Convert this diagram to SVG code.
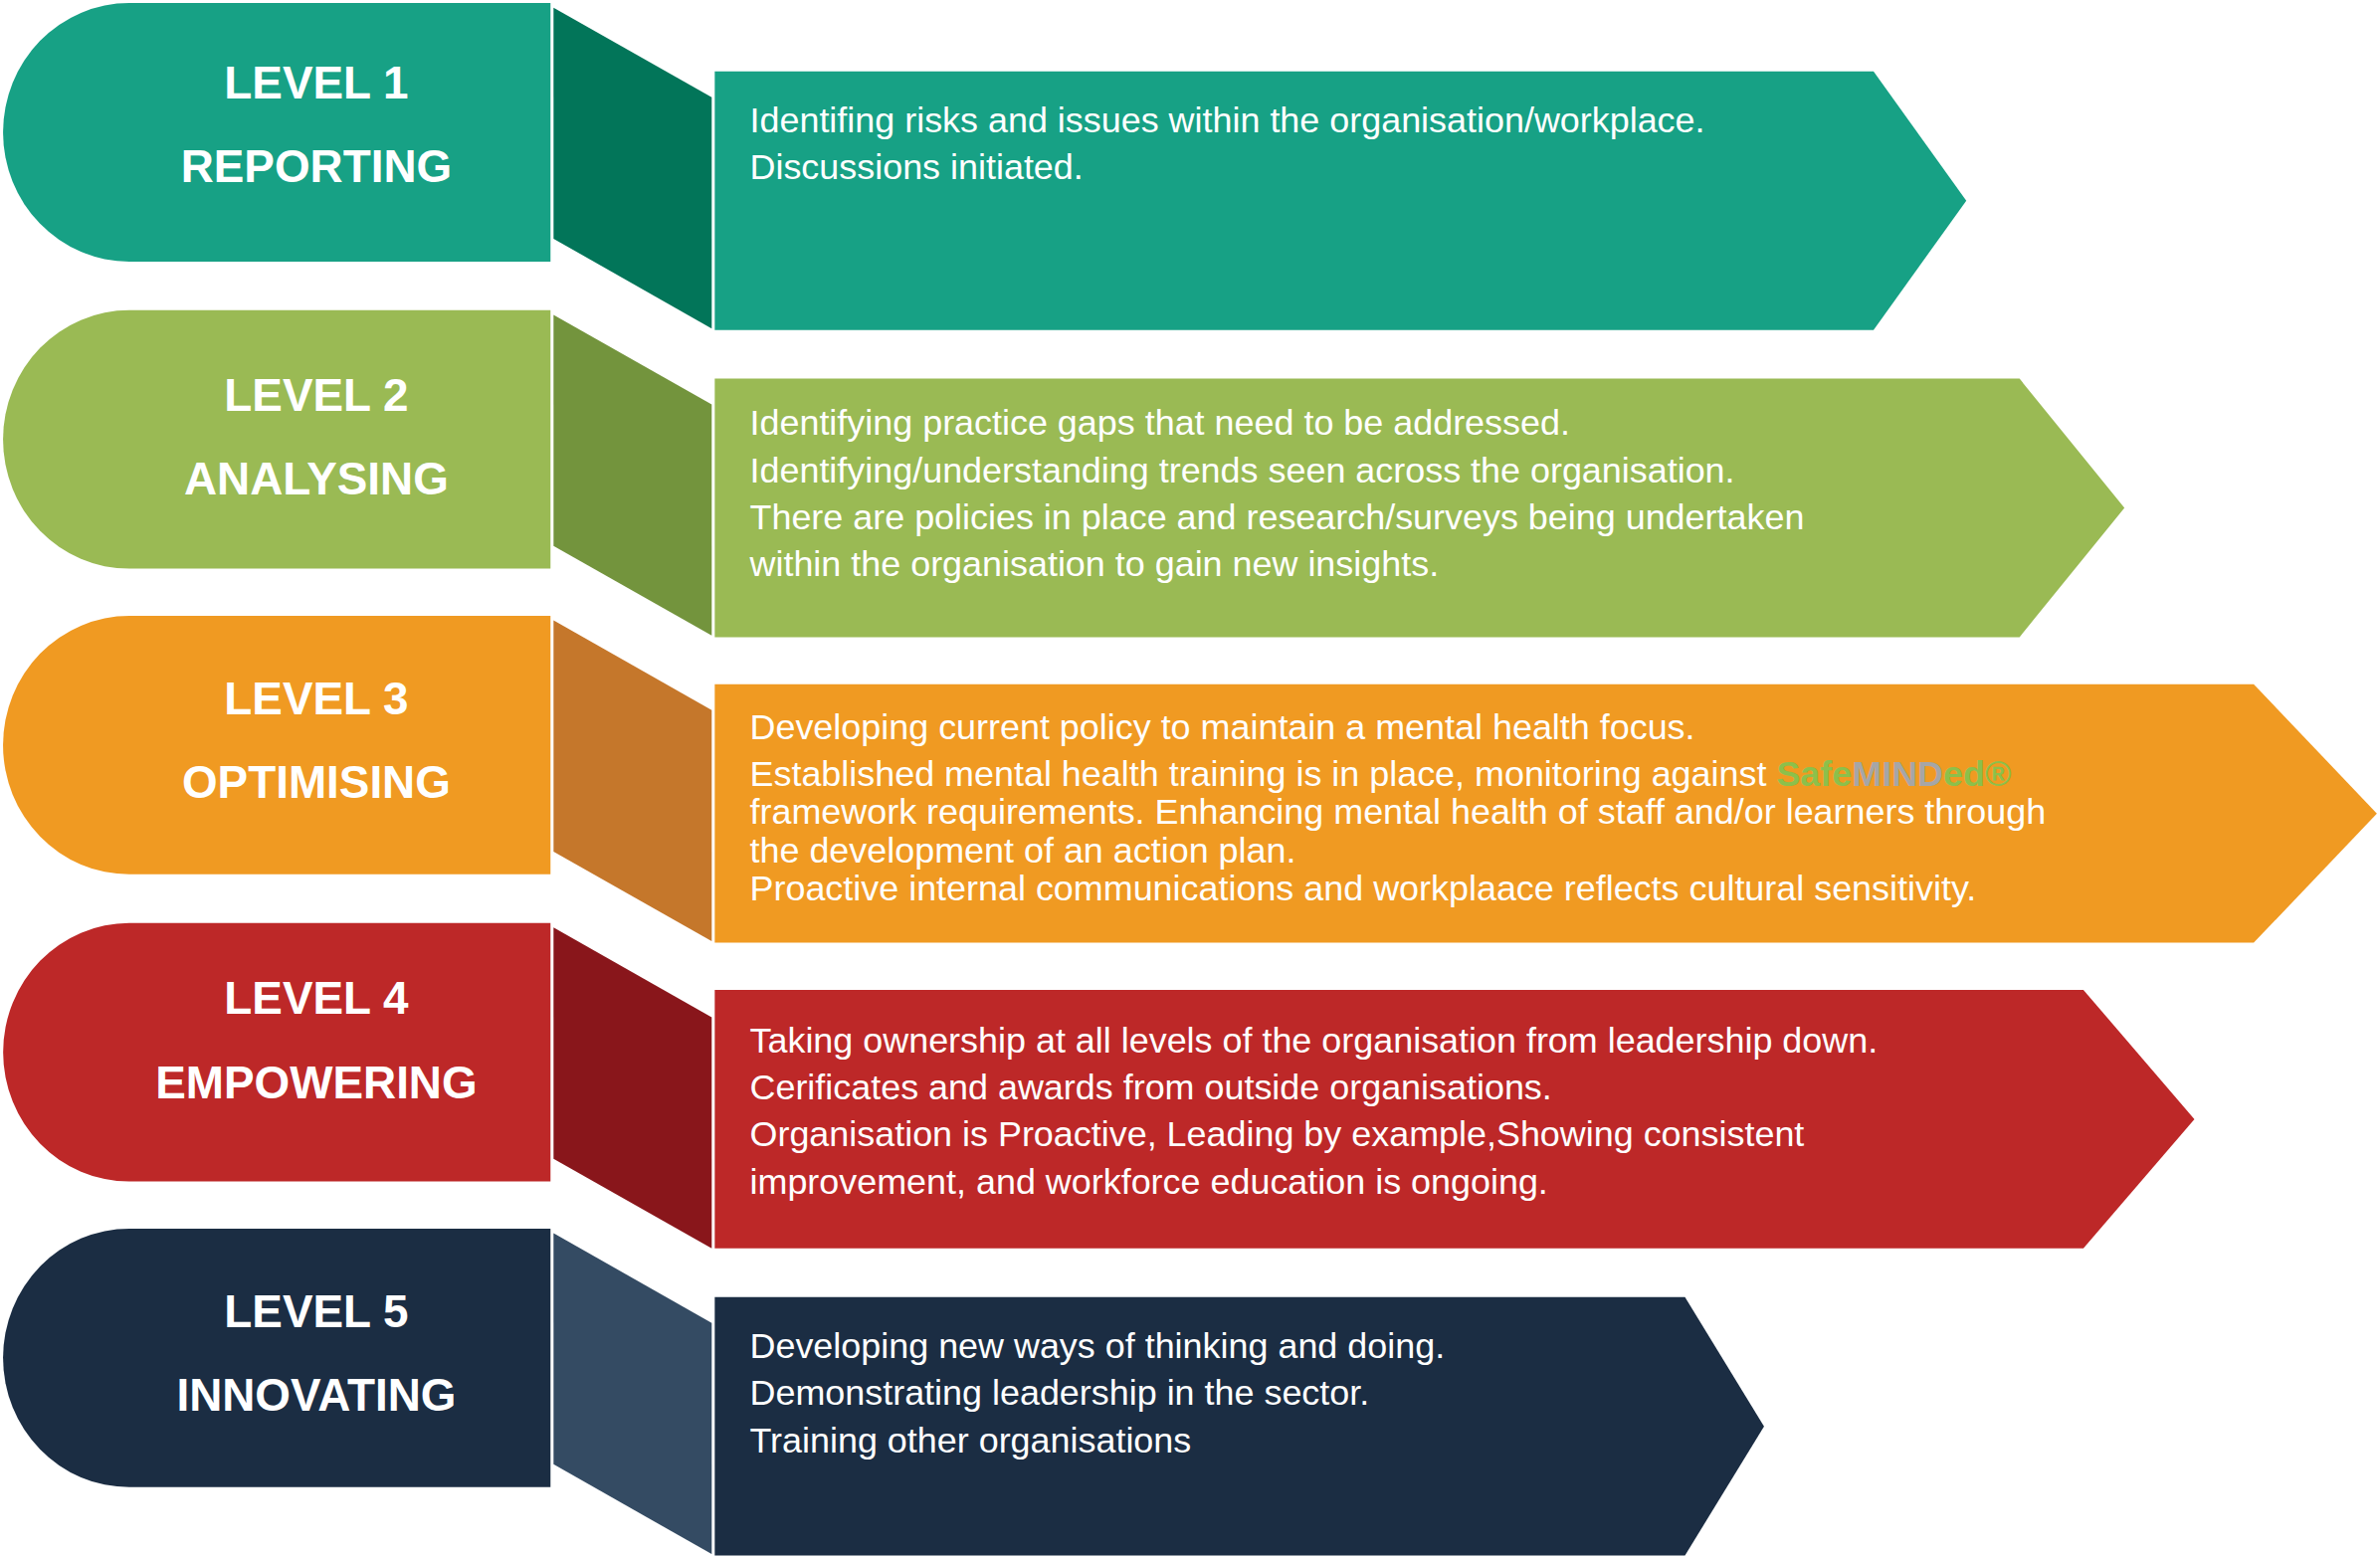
<svg xmlns="http://www.w3.org/2000/svg" width="2392" height="1565" viewBox="0 0 2392 1565">
<style>
.lbl{font-family:"Liberation Sans",Arial,sans-serif;font-weight:bold;font-size:30px;fill:#fff;text-anchor:middle}
.txt{font-family:"Liberation Sans",Arial,sans-serif;font-size:23.5px;fill:#fff}
</style>
<rect width="2392" height="1565" fill="#fff"/>
<g transform="scale(1.5284)">
<g id="level1">
<path d="M362,2 H85 A83,85 0 0 0 85,172 H362 Z" fill="#17a185"/>
<path d="M364,5 L468,64 V216 L364,157 Z" fill="#027559"/>
<path d="M470,47 H1232 L1293,132 L1232,217 H470 Z" fill="#17a185"/>
<text class="lbl" x="208" y="65">LEVEL 1</text>
<text class="lbl" x="208" y="120">REPORTING</text>
<text class="txt" x="493" y="87">Identifing risks and issues within the organisation/workplace.</text>
<text class="txt" x="493" y="118">Discussions initiated.</text>
</g>
<g id="level2">
<path d="M362,204 H85 A83,85 0 0 0 85,374 H362 Z" fill="#9aba54"/>
<path d="M364,207 L468,266 V418 L364,359 Z" fill="#73943d"/>
<path d="M470,249 H1328 L1397,334 L1328,419 H470 Z" fill="#9aba54"/>
<text class="lbl" x="208" y="270">LEVEL 2</text>
<text class="lbl" x="208" y="325">ANALYSING</text>
<text class="txt" x="493" y="286">Identifying practice gaps that need to be addressed.</text>
<text class="txt" x="493" y="317">Identifying/understanding trends seen across the organisation.</text>
<text class="txt" x="493" y="348">There are policies in place and research/surveys being undertaken</text>
<text class="txt" x="493" y="379">within the organisation to gain new insights.</text>
</g>
<g id="level3">
<path d="M362,405 H85 A83,85 0 0 0 85,575 H362 Z" fill="#f09a22"/>
<path d="M364,408 L468,467 V619 L364,560 Z" fill="#c5772b"/>
<path d="M470,450 H1482 L1563,535 L1482,620 H470 Z" fill="#f09a22"/>
<text class="lbl" x="208" y="470">LEVEL 3</text>
<text class="lbl" x="208" y="525">OPTIMISING</text>
<text class="txt" x="493" y="486">Developing current policy to maintain a mental health focus.</text>
<text class="txt" x="493" y="517">Established mental health training is in place, monitoring against <tspan fill="#8cc04b" font-weight="bold">Safe</tspan><tspan fill="#a6a6a6" font-weight="bold">MIND</tspan><tspan fill="#8cc04b" font-weight="bold">ed®</tspan></text>
<text class="txt" x="493" y="542">framework requirements. Enhancing mental health of staff and/or learners through</text>
<text class="txt" x="493" y="567">the development of an action plan.</text>
<text class="txt" x="493" y="592">Proactive internal communications and workplaace reflects cultural sensitivity.</text>
</g>
<g id="level4">
<path d="M362,607 H85 A83,85 0 0 0 85,777 H362 Z" fill="#bd2828"/>
<path d="M364,610 L468,669 V821 L364,762 Z" fill="#89161b"/>
<path d="M470,651 H1370 L1443,736 L1370,821 H470 Z" fill="#bd2828"/>
<text class="lbl" x="208" y="667">LEVEL 4</text>
<text class="lbl" x="208" y="722">EMPOWERING</text>
<text class="txt" x="493" y="692">Taking ownership at all levels of the organisation from leadership down.</text>
<text class="txt" x="493" y="723">Cerificates and awards from outside organisations.</text>
<text class="txt" x="493" y="754">Organisation is Proactive, Leading by example,Showing consistent</text>
<text class="txt" x="493" y="785">improvement, and workforce education is ongoing.</text>
</g>
<g id="level5">
<path d="M362,808 H85 A83,85 0 0 0 85,978 H362 Z" fill="#1b2d43"/>
<path d="M364,811 L468,870 V1022 L364,963 Z" fill="#344b63"/>
<path d="M470,853 H1108 L1160,938 L1108,1023 H470 Z" fill="#1b2d43"/>
<text class="lbl" x="208" y="873">LEVEL 5</text>
<text class="lbl" x="208" y="928">INNOVATING</text>
<text class="txt" x="493" y="893">Developing new ways of thinking and doing.</text>
<text class="txt" x="493" y="924">Demonstrating leadership in the sector.</text>
<text class="txt" x="493" y="955">Training other organisations</text>
</g>
<g id="connectors"/>
</g>
</svg>
